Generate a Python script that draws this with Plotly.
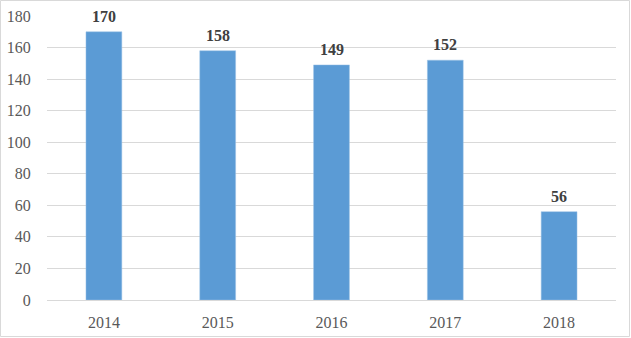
import plotly.graph_objects as go

years = ["2014", "2015", "2016", "2017", "2018"]
values = [170, 158, 149, 152, 56]
y_ticks = [0, 20, 40, 60, 80, 100, 120, 140, 160, 180]

L, R, T, B = 47, 15, 16, 38
W, H = 631, 338
pw, ph = W - L - R, H - T - B

fig = go.Figure(go.Bar(
    x=years, y=values,
    marker=dict(color="#5B9BD5", line=dict(color="#9DC3E6", width=0.5)),
    hoverinfo="x+y",
))

# category axis positions are indices 0..n-1
for i, v in enumerate(values):
    fig.add_annotation(x=i, y=v, text=f"<b>{v}</b>", showarrow=False,
                       yanchor="bottom", yshift=5,
                       font=dict(family="Liberation Serif", size=16, color="#404040"))

fig.update_layout(
    width=W, height=H,
    margin=dict(l=L, r=R, t=T, b=B, autoexpand=False),
    paper_bgcolor="white", plot_bgcolor="white",
    bargap=0.685, showlegend=False,
    font=dict(family="Liberation Serif", size=16, color="#595959"),
    shapes=[dict(type="rect", xref="paper", yref="paper",
                 x0=-(L - 0.5) / pw, x1=1 + (R - 1.5) / pw,
                 y0=-(B - 1.5) / ph, y1=1 + (T - 0.5) / ph,
                 line=dict(color="#D9D9D9", width=1))],
)
fig.update_yaxes(range=[0, 180], tickvals=y_ticks, showgrid=True, gridcolor="#D9D9D9",
                 gridwidth=1, zeroline=False, showline=False, ticks="outside",
                 ticklen=12, tickcolor="rgba(0,0,0,0)")
fig.update_xaxes(type="category", range=[-0.5, len(years) - 0.5], showline=True,
                 linecolor="#D9D9D9", linewidth=1,
                 ticks="outside", ticklen=8, tickcolor="rgba(0,0,0,0)")

fig.write_html("out.html", config={"displayModeBar": False})
with open("out.html", "r", encoding="utf-8") as f:
    html = f.read()
html = html.replace("<head>", "<head><style>html,body{margin:0;padding:0;overflow:hidden}</style>", 1)
with open("out.html", "w", encoding="utf-8") as f:
    f.write(html)
